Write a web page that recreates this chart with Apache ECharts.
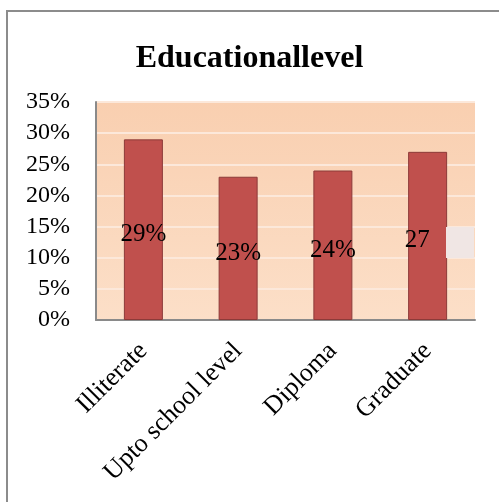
<!DOCTYPE html>
<html><head><meta charset="utf-8">
<script src="https://cdn.jsdelivr.net/npm/echarts@6/dist/echarts.min.js"></script>
<style>html,body{margin:0;padding:0;background:#fff}#c{width:499px;height:502px}</style>
</head><body><div id="c"></div>
<script>
var categories = ['Illiterate', 'Upto school level', 'Diploma', 'Graduate'];
var values = [29, 23, 24, 27];
var valueLabels = ['29%', '23%', '24%', '27'];
var yTicks = [0, 5, 10, 15, 20, 25, 30, 35];

var chart = echarts.init(document.getElementById('c'));
var font = '"Liberation Serif", "Times New Roman", serif';
chart.setOption({
  animation: false,
  title: {
    text: 'Educationallevel', left: 'center', top: 38,
    textStyle: {fontFamily: font, fontSize: 32, fontWeight: 'bold', color: '#000'}
  },
  grid: {left: 96, right: 24, top: 102, bottom: 182, show: true,
    borderWidth: 0,
    backgroundColor: new echarts.graphic.LinearGradient(0, 0, 0, 1, [
      {offset: 0, color: '#F9CFB0'}, {offset: 1, color: '#FCDFC8'}])},
  xAxis: {
    type: 'category', data: categories,
    axisLine: {lineStyle: {color: '#8a8a8a', width: 2}},
    axisTick: {show: false},
    axisLabel: {rotate: 45, fontFamily: font, fontSize: 26, color: '#000', margin: 27, interval: 0}
  },
  yAxis: {
    type: 'value', min: 0, max: 35, interval: 5,
    axisLine: {show: true, lineStyle: {color: '#8a8a8a', width: 2}},
    axisTick: {show: false},
    splitLine: {lineStyle: {color: '#FCE8DA', width: 2}},
    axisLabel: {formatter: function (v) { return yTicks.indexOf(v) >= 0 ? v + '%' : ''; },
      fontFamily: font, fontSize: 24, color: '#000', margin: 26}
  },
  series: [{
    type: 'bar', data: values, barWidth: 39,
    itemStyle: {color: '#C0504D', borderColor: '#8C3A38', borderWidth: 1},
    label: {show: true, position: 'inside', offset: [0, 5],
      formatter: function (p) {
        var s = valueLabels[p.dataIndex];
        return s.indexOf('%') < 0 ? s + '{h|%}' : s;
      },
      rich: {h: {color: 'rgba(0,0,0,0)', fontFamily: font, fontSize: 25}},
      fontFamily: font, fontSize: 25, color: '#000'}
  }],
  graphic: [
    {type: 'rect', shape: {x: 7, y: 11, width: 600, height: 600},
      style: {fill: 'none', stroke: '#8c8c8c', lineWidth: 2}, z: 100},
    {type: 'rect', shape: {x: 446, y: 227, width: 28, height: 31},
      style: {fill: '#F0E6E4'}, z: 50}
  ]
});
</script></body></html>
